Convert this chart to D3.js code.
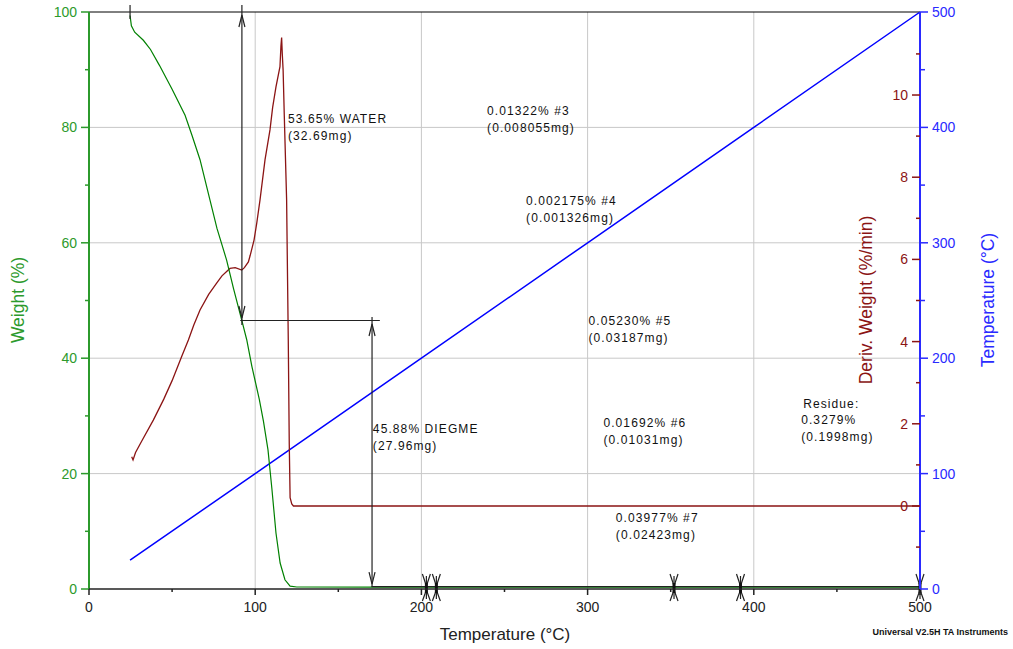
<!DOCTYPE html>
<html><head><meta charset="utf-8">
<script src="https://cdn.jsdelivr.net/npm/d3@7"></script>
<style>
body{margin:0;background:#fff;}
text{font-family:"Liberation Sans",Arial,sans-serif;}
</style></head>
<body><svg id="c" width="1013" height="649"></svg>
<script>
// ---- data ----
const weightCurve = [[24.7,99.4],[25.5,97.6],[27.5,96.5],[32.7,95.1],[37,93.5],[42.3,90.8],[50,86.6],[57.8,82.1],[62,78.6],[66.8,74.4],[72.8,67.4],[77,62.5],[82.8,57.0],[87,52.0],[91.9,46.6],[94.9,43.2],[98,38.6],[102.5,32.8],[105,29.0],[107.7,24.1],[110,17.5],[112.5,9.7],[115,4.5],[117.9,1.6],[121,0.5],[125,0.35],[170,0.33],[300,0.33],[500,0.33]];
const derivCurve = [[25.7,1.2],[26.5,1.12],[28,1.3],[32,1.6],[38.7,2.09],[45,2.6],[50,3.05],[55.7,3.63],[59.8,4.04],[63,4.4],[66.8,4.77],[72,5.15],[76.8,5.42],[80,5.6],[84.8,5.78],[88,5.8],[91.9,5.74],[93.5,5.8],[95.9,5.94],[97,6.1],[99.3,6.47],[101,6.9],[102.9,7.45],[105.9,8.42],[108.9,9.15],[110.5,9.7],[112.5,10.2],[114.9,10.69],[115.5,11.2],[115.9,11.4],[116.3,11.0],[116.8,10.6],[117.5,9.5],[118.9,7.45],[119.9,4.04],[120.5,1.5],[121,0.2],[122,0.05],[123,0.0],[500,0.0]];
const tempCurve = [[24.7,25],[100,100],[200,200],[300,300],[400,400],[500,500]];

const xTicks = [0,100,200,300,400,500];
const xMinor = [50,150,250,350,450];
const wTicks = [0,20,40,60,80,100];
const wMinor = [10,30,50,70,90];
const dTicks = [0,2,4,6,8,10];
const dMinor = [-1,1,3,5,7,9,11];
const tTicks = [0,100,200,300,400,500];
const tMinor = [50,150,250,350,450];

// step analysis: vertical arrows (temperature, weight from, weight to)
const stepArrows = [[92,100,46.45],[170.3,46.45,0.33]];
const stepHoriz = [[91,175,46.45],[170,500,0.33]];
const stepMarkers = [203,209,352,392,500];
const startMarker = 24.7;

const labels = [
  {t:119.7, w:81.5, lines:["53.65% WATER","(32.69mg)"]},
  {t:170.8, w:27.8, lines:["45.88% DIEGME","(27.96mg)"]},
  {t:239.5, w:83.0, lines:["0.01322% #3","(0.008055mg)"]},
  {t:263, w:67.4, lines:["0.002175% #4","(0.001326mg)"]},
  {t:300.5, w:46.45, lines:["0.05230% #5","(0.03187mg)"]},
  {t:309.5, w:28.9, lines:["0.01692% #6","(0.01031mg)"]},
  {t:317, w:12.4, lines:["0.03977% #7","(0.02423mg)"]},
  {t:428.5, w:32.2, lines:["Residue:","0.3279%","(0.1998mg)"], extra:true}
];

// ---- scales ----
const svg = d3.select("#c");
const x = d3.scaleLinear([0,500],[89,920]);
const yW = d3.scaleLinear([0,100],[589,12]);
const yD = d3.scaleLinear([-2.02,12.02],[589,12]);
const yT = d3.scaleLinear([0,500],[589,12]);

const cW="#008000", cWa="#2c9a2c", cD="#8b1414", cT="#0000ff", cTa="#2a2aff";

// grid
svg.append("g").selectAll("line").data([20,40,60,80]).join("line")
  .attr("x1",x(0)).attr("x2",x(500)).attr("y1",d=>yW(d)).attr("y2",d=>yW(d))
  .attr("stroke","#c8c8c8").attr("stroke-width",1);
svg.append("g").selectAll("line").data([100,200,300,400]).join("line")
  .attr("y1",yW(0)).attr("y2",yW(100)).attr("x1",d=>x(d)).attr("x2",d=>x(d))
  .attr("stroke","#c8c8c8").attr("stroke-width",1);

// top border
svg.append("line").attr("x1",x(0)).attr("x2",x(500)).attr("y1",yW(100)).attr("y2",yW(100))
  .attr("stroke","#000").attr("stroke-width",1);

// curves
const lineW = d3.line().x(d=>x(d[0])).y(d=>yW(d[1]));
const lineD = d3.line().x(d=>x(d[0])).y(d=>yD(d[1]));
const lineT = d3.line().x(d=>x(d[0])).y(d=>yT(d[1]));
svg.append("path").attr("d",lineT(tempCurve)).attr("fill","none").attr("stroke",cT).attr("stroke-width",1.5);
svg.append("path").attr("d",lineD(derivCurve)).attr("fill","none").attr("stroke",cD).attr("stroke-width",1.3);
svg.append("path").attr("d",lineW(weightCurve)).attr("fill","none").attr("stroke",cW).attr("stroke-width",1.2);

// step annotations
const ann = svg.append("g").attr("stroke","#222").attr("fill","none").attr("stroke-width",1.2);
stepHoriz.forEach(s=>{
  ann.append("line").attr("x1",x(s[0])).attr("x2",x(s[1])).attr("y1",yW(s[2])-0.5).attr("y2",yW(s[2])-0.5);
});
stepArrows.forEach(s=>{
  const xx=x(s[0]), y1=yW(s[1]), y2=yW(s[2]);
  ann.append("line").attr("x1",xx).attr("x2",xx).attr("y1",y1-(s[1]>=100?7:4)).attr("y2",y2+(s[2]<1?0:4));
  ann.append("path").attr("d",`M${xx-3},${y1+15}L${xx},${y1+3}L${xx+3},${y1+15}`);
  ann.append("path").attr("d",`M${xx-3},${y2-15}L${xx},${y2-3}L${xx+3},${y2-15}`);
});
// start marker
ann.append("line").attr("x1",x(startMarker)).attr("x2",x(startMarker)).attr("y1",yW(100)-7).attr("y2",yW(100)+7);
// bottom markers
stepMarkers.forEach(t=>{
  const xx=x(t), y0=yW(0);
  ann.append("line").attr("x1",xx).attr("x2",xx).attr("y1",y0-13).attr("y2",y0+10);
  ann.append("path").attr("d",`M${xx-4},${y0-15}L${xx},${y0-3}L${xx+4},${y0-15}`);
  ann.append("path").attr("d",`M${xx-4},${y0+12}L${xx},${y0+1}L${xx+4},${y0+12}`);
  ann.append("rect").attr("x",xx-1.5).attr("y",y0-6).attr("width",3).attr("height",10).attr("fill","#111").attr("stroke","none");
});

// annotation labels
const lg = svg.append("g").attr("font-size","12px").attr("letter-spacing","1.1px").attr("fill","#111");
labels.forEach(l=>{
  l.lines.forEach((s,i)=>{
    lg.append("text").attr("x",x(l.t)+(l.extra&&i==0?2:0)).attr("y",yW(l.w)+4.5+i*(l.extra?16.5:17)).text(s);
  });
});

// left axis (weight)
const ax = svg.append("g");
ax.append("line").attr("x1",x(0)).attr("x2",x(0)).attr("y1",yW(0)).attr("y2",yW(100)).attr("stroke",cWa).attr("stroke-width",2);
ax.selectAll(".wt").data(wTicks).join("line").attr("x1",x(0)-8).attr("x2",x(0)).attr("y1",d=>yW(d)).attr("y2",d=>yW(d)).attr("stroke",cWa).attr("stroke-width",1.5);
ax.selectAll(".wm").data(wMinor).join("line").attr("class","wm").attr("x1",x(0)-4).attr("x2",x(0)).attr("y1",d=>yW(d)).attr("y2",d=>yW(d)).attr("stroke",cWa).attr("stroke-width",1.5);
ax.selectAll(".wl").data(wTicks).join("text").attr("class","wl").attr("x",x(0)-12).attr("y",d=>yW(d)+5).attr("text-anchor","end").attr("font-size","14px").attr("fill",cWa).text(d=>d);

// bottom axis
ax.append("line").attr("x1",x(0)).attr("x2",x(500)).attr("y1",yW(0)).attr("y2",yW(0)).attr("stroke","#222").attr("stroke-width",1.5);
ax.selectAll(".xt").data(xTicks).join("line").attr("class","xt").attr("x1",d=>x(d)).attr("x2",d=>x(d)).attr("y1",yW(0)).attr("y2",yW(0)+6).attr("stroke","#222").attr("stroke-width",1.5);
ax.selectAll(".xm").data(xMinor).join("line").attr("class","xm").attr("x1",d=>x(d)).attr("x2",d=>x(d)).attr("y1",yW(0)).attr("y2",yW(0)+3).attr("stroke","#222").attr("stroke-width",1.5);
ax.selectAll(".xl").data(xTicks).join("text").attr("class","xl").attr("x",d=>x(d)).attr("y",yW(0)+23).attr("text-anchor","middle").attr("font-size","14px").attr("fill","#222").text(d=>d);

// right axes
ax.append("line").attr("x1",x(500)).attr("x2",x(500)).attr("y1",yT(0)).attr("y2",yT(500)).attr("stroke",cTa).attr("stroke-width",2);
ax.selectAll(".tt").data(tTicks).join("line").attr("class","tt").attr("x1",x(500)).attr("x2",x(500)+8).attr("y1",d=>yT(d)).attr("y2",d=>yT(d)).attr("stroke",cTa).attr("stroke-width",1.5);
ax.selectAll(".tm").data(tMinor).join("line").attr("class","tm").attr("x1",x(500)).attr("x2",x(500)+5).attr("y1",d=>yT(d)).attr("y2",d=>yT(d)).attr("stroke",cTa).attr("stroke-width",1.5);
ax.selectAll(".tl").data(tTicks).join("text").attr("class","tl").attr("x",x(500)+12).attr("y",d=>yT(d)+5).attr("font-size","14px").attr("fill",cTa).text(d=>d);

ax.selectAll(".dt").data(dTicks).join("line").attr("class","dt").attr("x1",x(500)-8).attr("x2",x(500)).attr("y1",d=>yD(d)).attr("y2",d=>yD(d)).attr("stroke",cD).attr("stroke-width",1.5);
ax.selectAll(".dm").data(dMinor).join("line").attr("class","dm").attr("x1",x(500)-4).attr("x2",x(500)).attr("y1",d=>yD(d)).attr("y2",d=>yD(d)).attr("stroke",cD).attr("stroke-width",1.5);
ax.selectAll(".dl").data(dTicks).join("text").attr("class","dl").attr("x",x(500)-12).attr("y",d=>yD(d)+5).attr("text-anchor","end").attr("font-size","14px").attr("fill",cD).text(d=>d);

// axis titles
svg.append("text").attr("transform","translate(24,300) rotate(-90)").attr("text-anchor","middle").attr("font-size","17.5px").attr("fill",cWa).text("Weight (%)");
svg.append("text").attr("transform","translate(872,300) rotate(-90)").attr("text-anchor","middle").attr("font-size","17.5px").attr("fill",cD).text("Deriv. Weight (%/min)");
svg.append("text").attr("transform","translate(994,300) rotate(-90)").attr("text-anchor","middle").attr("font-size","17.5px").attr("fill",cTa).text("Temperature (°C)");
svg.append("text").attr("x",505).attr("y",640).attr("text-anchor","middle").attr("font-size","17px").attr("fill","#222").text("Temperature (°C)");
svg.append("text").attr("x",1008).attr("y",635).attr("text-anchor","end").attr("font-size","9px").attr("font-weight","bold").attr("letter-spacing","0px").attr("fill","#111").text("Universal V2.5H TA Instruments");
</script></body></html>
